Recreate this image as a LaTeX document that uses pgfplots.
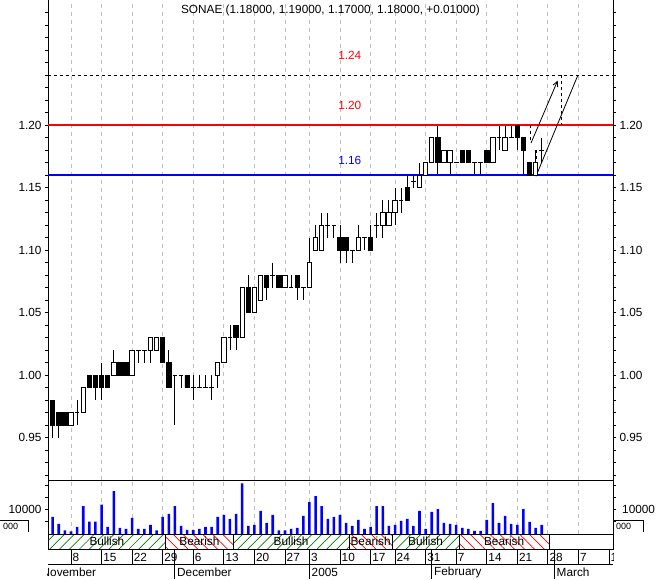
\documentclass[border=0pt]{standalone}
\usepackage{fontspec}
\setmainfont{Liberation Sans}
\usepackage{pgfplots}
\usepackage{pgfplotstable}
\pgfplotsset{compat=1.18}
\usetikzlibrary{patterns.meta,arrows.meta}

\pgfplotstableread{
d o h l c v
1 0.98 0.98 0.95 0.96 7010
2 0.97 0.97 0.95 0.96 4180
3 0.97 0.97 0.96 0.96 1480
4 0.96 0.97 0.96 0.97 1070
5 0.97 0.98 0.96 0.97 2960
6 0.97 0.99 0.97 0.99 11490
7 1.00 1.00 0.99 0.99 5130
8 1.00 1.00 0.98 0.99 5130
9 1.00 1.01 0.98 0.99 12030
10 1.00 1.00 0.99 0.99 2960
11 1.00 1.02 1.00 1.01 17580
12 1.01 1.01 1.00 1.00 2560
13 1.01 1.01 1.00 1.00 2150
14 1.00 1.02 1.00 1.02 6620
15 1.02 1.02 1.01 1.02 2150
16 1.02 1.02 1.01 1.02 2150
17 1.02 1.03 1.01 1.03 3780
18 1.02 1.03 1.02 1.03 1480
19 1.03 1.03 1.01 1.01 7020
20 1.01 1.02 0.99 0.99 8240
21 1.00 1.00 0.96 1.00 11490
22 1.00 1.00 0.99 1.00 3370
23 1.00 1.00 0.99 0.99 1750
24 0.99 1.00 0.98 0.99 1750
25 0.99 1.00 0.99 0.99 2150
26 0.99 1.00 0.99 0.99 2960
27 0.99 1.00 0.98 0.99 2960
28 1.00 1.01 0.99 1.01 7020
29 1.01 1.03 1.01 1.03 7830
30 1.03 1.04 1.02 1.03 6210
31 1.04 1.04 1.02 1.03 8240
32 1.03 1.07 1.03 1.07 20830
33 1.07 1.08 1.05 1.05 3370
34 1.05 1.07 1.05 1.07 3780
35 1.06 1.08 1.06 1.08 9460
36 1.08 1.08 1.06 1.07 4590
37 1.08 1.09 1.07 1.08 7830
38 1.08 1.08 1.07 1.07 1480
39 1.07 1.08 1.07 1.08 1480
40 1.07 1.08 1.07 1.07 2150
41 1.08 1.08 1.06 1.07 2560
42 1.07 1.07 1.06 1.07 7430
43 1.07 1.11 1.07 1.09 13110
44 1.10 1.12 1.10 1.11 15550
45 1.10 1.13 1.10 1.12 11490
46 1.12 1.13 1.11 1.12 6210
47 1.12 1.12 1.11 1.12 7020
48 1.11 1.12 1.09 1.10 7830
49 1.11 1.11 1.09 1.10 4590
50 1.10 1.10 1.09 1.10 3370
51 1.10 1.12 1.10 1.11 5810
52 1.11 1.11 1.10 1.11 2150
53 1.11 1.12 1.10 1.10 2960
54 1.12 1.13 1.11 1.12 11490
55 1.12 1.14 1.11 1.13 11490
56 1.12 1.14 1.12 1.13 3370
57 1.13 1.15 1.12 1.14 3780
58 1.14 1.15 1.13 1.14 5400
59 1.15 1.16 1.14 1.14 6210
60 1.155 1.16 1.15 1.155 3370
61 1.15 1.17 1.15 1.16 9460
62 1.16 1.17 1.16 1.17 2150
63 1.17 1.19 1.17 1.19 9050
64 1.19 1.20 1.16 1.17 10270
65 1.17 1.18 1.17 1.18 4590
66 1.17 1.18 1.16 1.18 4180
67 1.17 1.17 1.17 1.17 3780
68 1.18 1.18 1.17 1.17 2560
69 1.18 1.18 1.17 1.17 2150
70 1.17 1.17 1.16 1.17 1340
71 1.17 1.17 1.16 1.17 1340
72 1.18 1.18 1.17 1.17 5810
73 1.17 1.19 1.17 1.19 12710
74 1.19 1.20 1.18 1.19 4590
75 1.18 1.20 1.18 1.19 7430
76 1.19 1.20 1.19 1.19 4180
77 1.20 1.20 1.18 1.19 3780
78 1.19 1.19 1.16 1.18 10270
79 1.17 1.17 1.16 1.16 5000
80 1.16 1.18 1.16 1.17 2560
81 1.18 1.19 1.17 1.18 3780
}\data

\newcommand\F{\fontsize{11.8}{14}\selectfont}

\pgfplotsset{
  common/.style={scale only axis, width=565pt, xmin=0.238, xmax=92.65,
    axis line style={line width=1pt},
    xtick={4,9,14,19,24,29,34,39,43,48,53,57,62,67,72,77,82,87}, xticklabels={},
    xtick style={draw=none},
    tick align=outside, major tick length=3pt, minor tick length=3pt,
    ytick style={line width=0.9pt, black}, yticklabel style={font=\F}},
  pricey/.style={height=480pt, ymin=0.916, ymax=1.30,
    ytick={0.95,1.00,1.05,1.10,1.15,1.20},
    yticklabels={0.95,1.00,1.05,1.10,1.15,1.20},
    minor ytick={0.92,0.93,0.94,0.96,0.97,0.98,0.99,1.01,1.02,1.03,1.04,1.06,1.07,1.08,1.09,1.11,1.12,1.13,1.14,1.16,1.17,1.18,1.19,1.21,1.22,1.23,1.24,1.25,1.26,1.27,1.28,1.29}},
  gridx/.style={xmajorgrids, major grid style={black!25, dash pattern=on 4pt off 4pt, line width=0.8pt}}
}

\begin{document}
\begin{tikzpicture}[x=1pt,y=1pt]

% price panel: grid, wicks, level lines, annotations
\begin{axis}[common, pricey, gridx, at={(48pt,-480pt)}, anchor=south west,
  axis x line*=bottom, axis y line*=left]
% wicks (high-low)
\addplot[draw=none, mark=none, error bars/.cd, y dir=both, y explicit,
  error mark=none, error bar style={draw=black, solid, line width=0.9pt}]
  table[x=d, y expr={(\thisrow{h}+\thisrow{l})/2}, y error expr={(\thisrow{h}-\thisrow{l})/2}] {\data};
% open and close ticks (visible as the cross of doji candles)
\addplot[draw=none, mark=none, error bars/.cd, x dir=both, x fixed=0.38,
  error mark=none, error bar style={draw=black, solid, line width=0.9pt}]
  table[x=d, y=c] {\data};
\addplot[draw=none, mark=none, error bars/.cd, x dir=both, x fixed=0.38,
  error mark=none, error bar style={draw=black, solid, line width=0.9pt}]
  table[x=d, y=o] {\data};
\addplot[black, line width=0.8pt, dash pattern=on 3pt off 3pt] coordinates {(0.238,1.24) (92.65,1.24)};
\addplot[red, line width=2pt] coordinates {(0.238,1.20) (92.65,1.20)};
\addplot[blue, line width=2pt] coordinates {(0.238,1.16) (92.65,1.16)};
\addplot[black, line width=0.8pt] coordinates {(80.05,1.159) (86.92,1.240)};
\addplot[black, line width=0.8pt, -{Straight Barb[length=5pt,width=5pt]}] coordinates {(79.24,1.1856) (83.60,1.2355)};
\addplot[black, line width=0.8pt, dash pattern=on 3pt off 3pt] coordinates {(84.14,1.240) (84.14,1.200)};
\addplot[black, line width=0.8pt, dash pattern=on 3pt off 3pt] coordinates {(79.16,1.200) (79.16,1.1864)};
\addplot[black, line width=0.8pt, dash pattern=on 3pt off 3pt] coordinates {(80.06,1.180) (80.06,1.1616)};
\node[red, font=\F] at (axis cs:49.6,1.256) {1.24};
\node[red, font=\F] at (axis cs:49.6,1.216) {1.20};
\node[blue, font=\F] at (axis cs:49.6,1.172) {1.16};
\end{axis}

% price panel: candle bodies (stacked from the low end of each body)
\begin{axis}[common, pricey, at={(48pt,-480pt)}, anchor=south west,
  axis x line=none, axis y line*=right, ybar stacked, bar width=0.72]
\addplot[draw=none, fill=none] table[x=d, y expr={min(\thisrow{o},\thisrow{c})}] {\data};
\addplot[draw=black, fill=white, line width=0.9pt] table[x=d, y expr={max(\thisrow{c}-\thisrow{o},0)}] {\data};
\addplot[draw=black, fill=black, line width=0.9pt] table[x=d, y expr={max(\thisrow{o}-\thisrow{c},0)}] {\data};
\end{axis}

% volume panel
\begin{axis}[common, gridx, at={(48pt,-534pt)}, anchor=south west, height=54pt,
  ymin=0, ymax=22200, ytick={10000}, yticklabels={10000}, scaled y ticks=false,
  minor ytick={5000,15000,20000}, ytick pos=both,
  ybar, bar width=0.42, bar shift=0pt]
\addplot[fill=blue, draw=none] table[x=d, y=v] {\data};
\end{axis}

% title
\node[font=\F] at (330.5,-10) {SONAE (1.18000, 1.19000, 1.17000, 1.18000, +0.01000)};

% right volume label and clipped 5000 boxes
\node[font=\F, anchor=west, inner sep=0pt] at (622,-509.7) {10000};
\node[font=\fontsize{9}{10}\selectfont, anchor=west, inner sep=0pt] at (3,-526.5) {000};
\draw[line width=0.8pt] (0,-520.7) -- (28.5,-520.7) -- (28.5,-531.7);
\node[font=\fontsize{9}{10}\selectfont, anchor=west, inner sep=0pt] at (616,-526.5) {000};
\draw[line width=0.8pt] (614,-520.7) -- (643,-520.7) -- (643,-531.7);

% bullish / bearish band
\foreach \a/\b/\t/\c/\g in {48/165.8/Bullish/green!50!black/45, 165.8/233/Bearish/red/-45,
  233/349.2/Bullish/green!50!black/45, 349.2/392/Bearish/red/-45,
  392/459.2/Bullish/green!50!black/45, 459.2/549/Bearish/red/-45}{
  \fill[pattern={Lines[angle=\g, distance=7pt, line width=0.7pt]}, pattern color=\c]
    (\a,-534) rectangle (\b,-549);
  \draw[line width=0.9pt] (\a,-534) rectangle (\b,-549);
  \node[font=\F] at ({(\a+\b)/2},-541.5) {\t};
}
\draw[line width=0.9pt] (48,-534) rectangle (613,-549);
\draw[line width=0.9pt] (48,-564) -- (613,-564);

% date and month rows
\begin{scope}
\clip (47.5,-549) rectangle (613,-579);
\foreach \d/\t in {4/8, 9/15, 14/22, 19/29, 24/6, 29/13, 34/20, 39/27, 43/3, 48/10,
  53/17, 57/24, 62/31, 67/7, 72/14, 77/21, 82/28, 87/7, 92/14}{
  \pgfmathsetmacro\xx{48+(\d-0.238)*6.1139}
  \draw[line width=0.9pt] (\xx,-549) -- (\xx,-564);
  \node[font=\F, anchor=west, inner sep=1.5pt] at (\xx,-557) {\t};
}
\foreach \d in {21,43,63,83}{
  \pgfmathsetmacro\xx{48+(\d-0.238)*6.1139}
  \draw[line width=0.9pt] (\xx,-549) -- (\xx,-579);
}
\node[font=\F, anchor=west, inner sep=0pt] at (41.5,-572) {November};
\node[font=\F, anchor=west, inner sep=0pt] at (177,-572) {December};
\node[font=\F, anchor=west, inner sep=0pt] at (311.5,-572) {2005};
\node[font=\F, anchor=west, inner sep=0pt] at (434,-572) {February};
\node[font=\F, anchor=west, inner sep=0pt] at (556.5,-572) {March};
\end{scope}

\pgfresetboundingbox
\path[use as bounding box] (0,0) rectangle (661,-579);
\end{tikzpicture}
\end{document}
